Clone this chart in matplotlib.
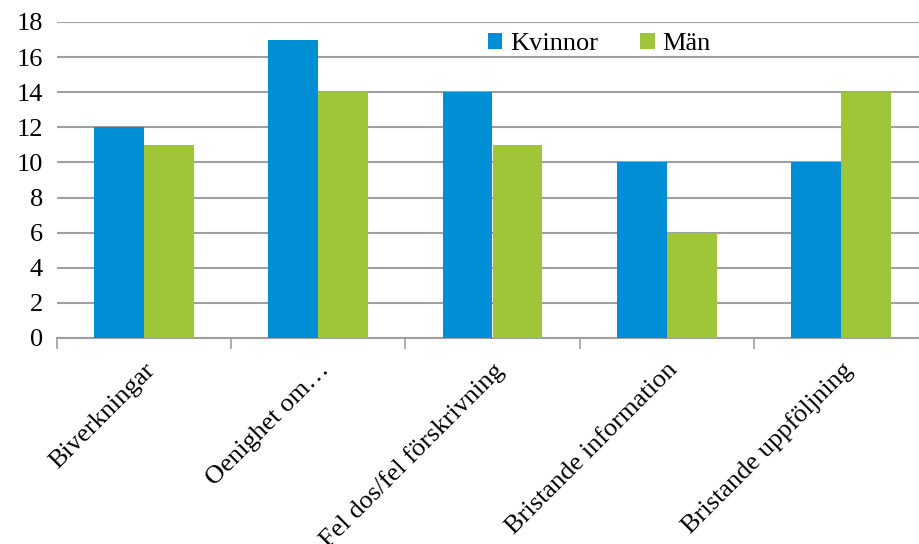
import numpy as np
import matplotlib.pyplot as plt
from matplotlib.patches import Patch

kategorier = ["Biverkningar", "Oenighet om…", "Fel dos/fel förskrivning",
              "Bristande information", "Bristande uppföljning"]
kvinnor = [12, 17, 14, 10, 10]
man = [11, 14, 11, 6, 14]

blue = "#008FD5"
green = "#9FC53B"
grid_c = "#A0A0A0"

plt.rcParams['font.family'] = ['Liberation Serif', 'DejaVu Serif']

fig = plt.figure(figsize=(9.2, 5.44), dpi=100)
ax = fig.add_axes([57 / 920, (544 - 338) / 544, (928 - 57) / 920, (338 - 22) / 544])

x = np.arange(len(kategorier))
w = 0.287
ax.bar(x - w / 2, kvinnor, w, color=blue, zorder=3)
ax.bar(x + w / 2, man, w, color=green, zorder=3)

ax.set_xlim(-0.5, len(kategorier) - 0.5)
ax.set_ylim(0, 18)
ax.set_yticks(range(0, 19, 2))
ax.yaxis.grid(True, color=grid_c, linewidth=1.5, zorder=0)
ax.tick_params(axis='y', length=0, pad=10, labelsize=19)

# tick marks at the category boundaries, labels at centres
ax.set_xticks(np.arange(-0.5, len(kategorier) - 0.5, 1.0))
ax.set_xticklabels([])
ax.tick_params(axis='x', which='major', length=8, width=1.2, color=grid_c, direction='out')
ax.set_xticks(x, minor=True)
ax.set_xticklabels(kategorier, minor=True, rotation=45, ha='right', va='top',
                   rotation_mode='anchor', fontsize=19)
ax.tick_params(axis='x', which='minor', length=0, pad=15)

for s in ['top', 'right', 'left']:
    ax.spines[s].set_visible(False)
ax.spines['bottom'].set_color(grid_c)
ax.spines['bottom'].set_linewidth(1.5)

handles = [Patch(facecolor=blue, label="Kvinnor"), Patch(facecolor=green, label="Män")]
ax.legend(handles=handles, loc='upper left', bbox_to_anchor=(0.467, 1.04), ncol=2,
          frameon=False, fontsize=19, handlelength=0.55, handleheight=0.55,
          handletextpad=0.3, columnspacing=1.6)

fig.savefig("out.png", dpi=100)
